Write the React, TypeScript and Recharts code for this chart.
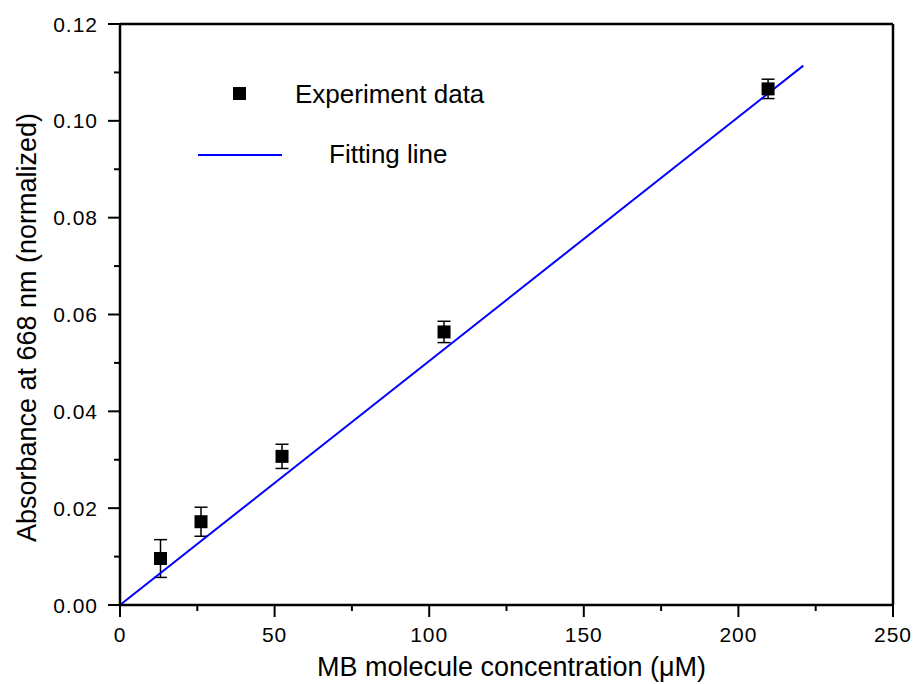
import React from 'react'
import { ComposedChart, Scatter, Line, XAxis, YAxis, ErrorBar, ReferenceLine, Label } from 'recharts'

const concentration = [13.1, 26.2, 52.4, 104.8, 209.6]
const absorbance = [0.0096, 0.0172, 0.0307, 0.0564, 0.1066]
const errors = [0.0039, 0.003, 0.0025, 0.0022, 0.002]

const fitX = [0, 221]
const fitY = [0, 0.1114]

const xTicks = [0, 25, 50, 75, 100, 125, 150, 175, 200, 225, 250]
const yTicks = [0, 0.01, 0.02, 0.03, 0.04, 0.05, 0.06, 0.07, 0.08, 0.09, 0.1, 0.11, 0.12]

const points = concentration.map((x, i) => ({ x, y: absorbance[i], err: errors[i] }))
const fit = fitX.map((x, i) => ({ x, y: fitY[i] }))

const font = '"Liberation Sans", Arial, sans-serif'
const W = 919
const H = 684

function XTick({ x, y, payload }: any) {
  const major = payload.value % 50 === 0
  return (
    <g>
      <line x1={x} y1={y} x2={x} y2={y + (major ? 12 : 6)} stroke="#000" strokeWidth={2} />
      {major && (
        <text x={x} y={y + 37} textAnchor="middle" fontSize={21} letterSpacing={1} fill="#000" fontFamily={font}>
          {payload.value}
        </text>
      )}
    </g>
  )
}

function YTick({ x, y, payload }: any) {
  const major = Math.round(payload.value * 100) % 2 === 0
  return (
    <g>
      <line x1={x} y1={y} x2={x - (major ? 12 : 6)} y2={y} stroke="#000" strokeWidth={2} />
      {major && (
        <text x={x - 22} y={y + 7.5} textAnchor="end" fontSize={21} letterSpacing={1} fill="#000" fontFamily={font}>
          {payload.value.toFixed(2)}
        </text>
      )}
    </g>
  )
}

const Square = ({ cx, cy }: any) => <rect x={cx - 6.5} y={cy - 6.5} width={13} height={13} fill="#000" />

export default function App() {
  return (
    <div style={{ position: 'absolute', left: 0, top: 0, width: W, height: H, background: '#fff' }}>
      <ComposedChart width={W} height={H} margin={{ top: 24, right: 26, bottom: 0, left: 0 }}>
        <XAxis
          type="number"
          dataKey="x"
          domain={[0, 250]}
          ticks={xTicks}
          interval={0}
          height={79}
          tickSize={0}
          tickMargin={0}
          tickLine={false}
          tick={<XTick />}
          axisLine={{ stroke: '#000', strokeWidth: 2.5 }}
        >
          <Label
            content={({ viewBox }: any) => (
              <text x={viewBox.x + viewBox.width / 2 + 5} y={viewBox.y + 71} textAnchor="middle" fontSize={27} fill="#000" fontFamily={font}>
                MB molecule concentration (μM)
              </text>
            )}
          />
        </XAxis>
        <YAxis
          type="number"
          dataKey="y"
          domain={[0, 0.12]}
          ticks={yTicks}
          interval={0}
          width={120}
          tickSize={0}
          tickMargin={0}
          tickLine={false}
          tick={<YTick />}
          axisLine={{ stroke: '#000', strokeWidth: 2.5 }}
        >
          <Label
            content={({ viewBox }: any) => {
              const cx = 36
              const cy = viewBox.y + viewBox.height / 2 + 13
              return (
                <text x={cx} y={cy} transform={`rotate(-90 ${cx} ${cy})`} textAnchor="middle" fontSize={27} fill="#000" fontFamily={font}>
                  Absorbance at 668 nm (normalized)
                </text>
              )
            }}
          />
        </YAxis>
        <ReferenceLine y={0.12} stroke="#000" strokeWidth={2.5} />
        <ReferenceLine x={250} stroke="#000" strokeWidth={2.5} />
        <Scatter data={points} dataKey="y" shape={<Square />} isAnimationActive={false}>
          <ErrorBar dataKey="err" direction="y" width={6.5} stroke="#000" strokeWidth={1.5} />
        </Scatter>
        <Line data={fit} dataKey="y" stroke="#0000ff" strokeWidth={2} dot={false} activeDot={false} isAnimationActive={false} />
      </ComposedChart>
      <svg width={W} height={H} style={{ position: 'absolute', left: 0, top: 0, pointerEvents: 'none' }}>
        <rect x={233} y={87} width={13} height={13} fill="#000" />
        <text x={295} y={103} fontSize={26} fill="#000" fontFamily={font}>Experiment data</text>
        <line x1={198} y1={155} x2={282} y2={155} stroke="#0000ff" strokeWidth={2} />
        <text x={329} y={163} fontSize={26} fill="#000" fontFamily={font}>Fitting line</text>
      </svg>
    </div>
  )
}
